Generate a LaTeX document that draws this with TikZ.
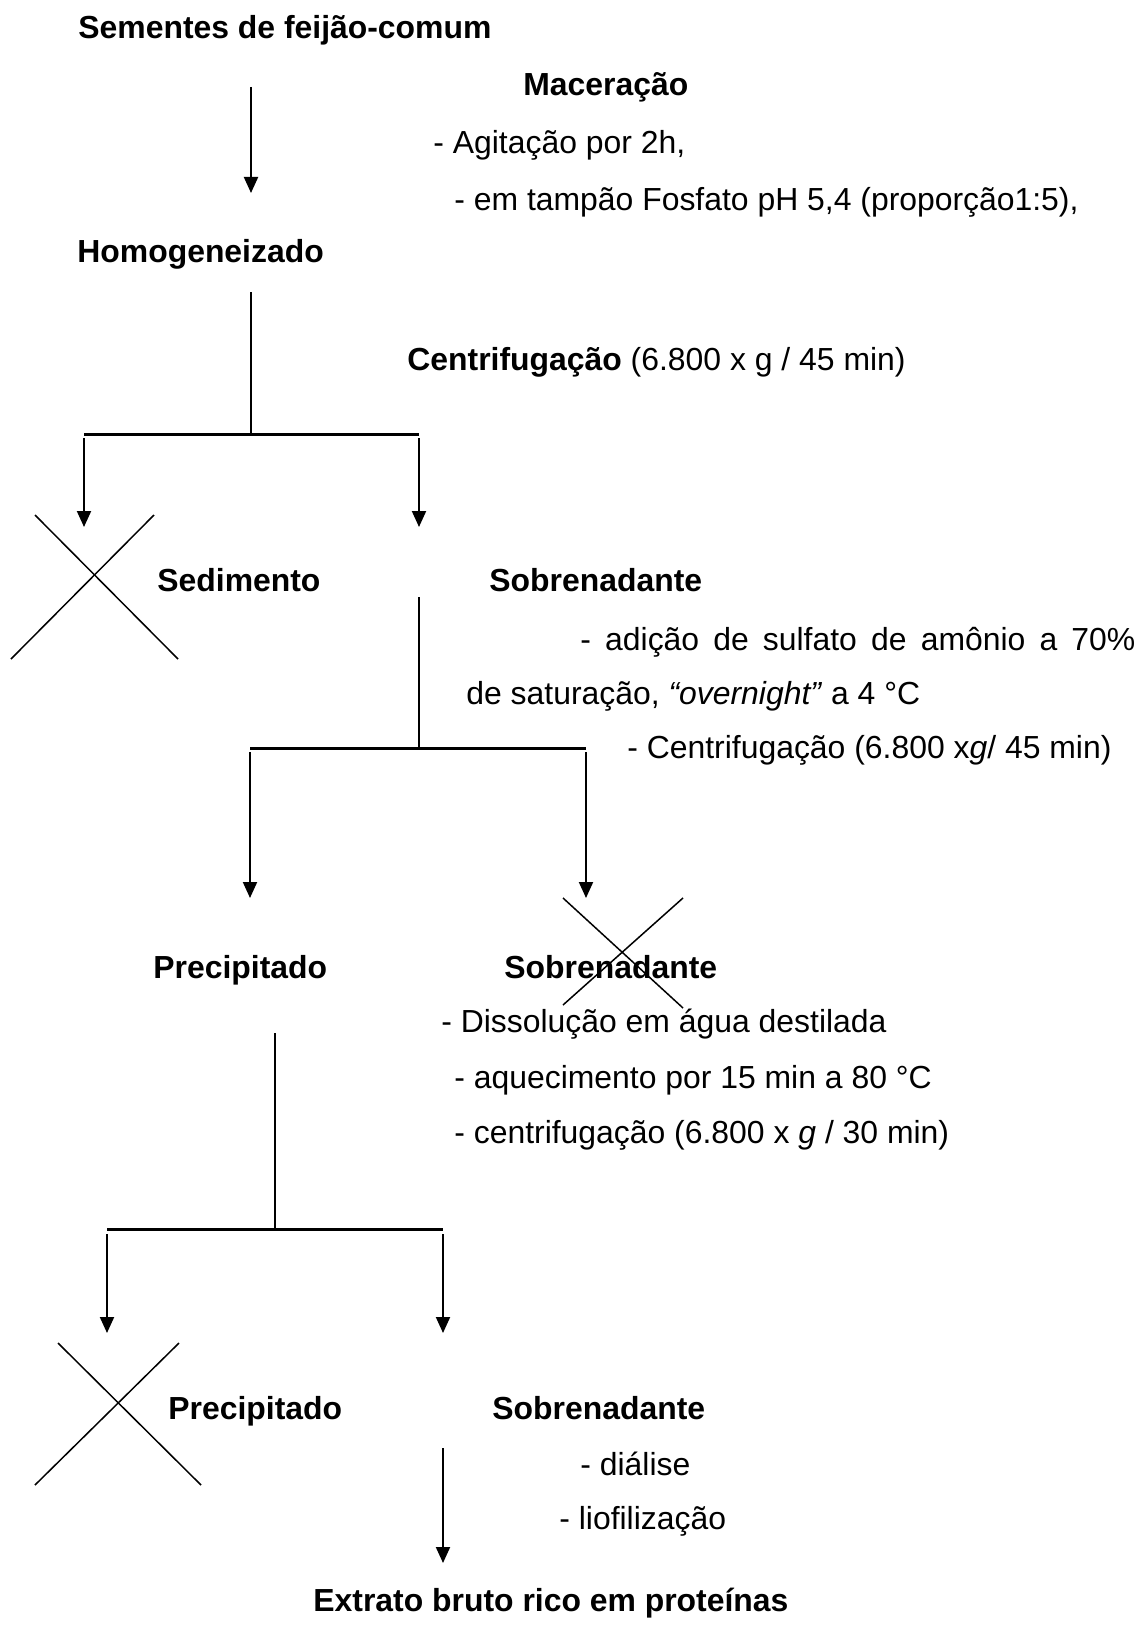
\documentclass[tikz,border=0pt]{standalone}
\usepackage{fontspec}
\setmainfont{Liberation Sans}
\usetikzlibrary{arrows.meta}
\tikzset{%
  arrow/.style={line width=1pt,-{Triangle[length=8pt,width=7pt]}},
  stem/.style={line width=1pt},
  bar/.style={line width=1.5pt},
  discard/.style={line width=0.75pt},
  stage/.style={anchor=base west,inner sep=0pt,font=\fontsize{15.95}{19}\selectfont\bfseries},
  note/.style={anchor=base west,inner sep=0pt,font=\fontsize{15.95}{19}\selectfont},
}

\begin{document}
\begin{tikzpicture}[x=0.5pt,y=-0.5pt]
  \useasboundingbox (0,0) rectangle (1140,1648);

  % maceration
  \node[stage] (seeds) at (78,39) {Sementes de feijão-comum};
  \node[stage] (macer) at (523,96) {Maceração};
  \node[note] (agit) at (433,154) {- Agitação por 2h,};
  \node[note] (buffer) at (454,211) {- em tampão Fosfato pH 5,4 (proporção1:5),};
  \node[stage] (homog) at (77,263) {Homogeneizado};
  \node[note] (centr1) at (407,370) {\textbf{Centrifugação} (6.800 x g / 45 min)};

  \coordinate (a1s) at (251,87);
  \coordinate (a1e) at (251,193);
  \draw[arrow] (a1s) -- (a1e);

  % first split
  \coordinate (s1top) at (251,292);
  \coordinate (s1) at (251,434);
  \coordinate (s1l) at (84,434);
  \coordinate (s1r) at (419,434);
  \draw[stem] (s1top) -- (s1);
  \draw[bar] (s1l) -- (s1r);
  \coordinate (sedtip) at (84,527);
  \coordinate (sobtip) at (419,527);
  \draw[arrow] (84,438) -- (sedtip);
  \draw[arrow] (419,438) -- (sobtip);

  \node[stage] (sed) at (157,591) {Sedimento};
  \node[stage] (sob1) at (489,591) {Sobrenadante};
  \draw[discard] (35,515) -- (178,659);
  \draw[discard] (154,515) -- (11,659);

  \node[note] (sulf) at (580,650) {\makebox[277.5pt][s]{- adição de sulfato de amônio a 70\%}};
  \node[note] (satur) at (466,704) {de saturação, \textit{“overnight”} a 4 °C};
  \node[note] (centr2) at (627,758) {- Centrifugação (6.800 x\textit{g}/ 45 min)};

  % second split
  \coordinate (s2top) at (419,597);
  \coordinate (s2) at (419,748);
  \coordinate (s2l) at (250,748);
  \coordinate (s2r) at (586,748);
  \draw[stem] (s2top) -- (s2);
  \draw[bar] (s2l) -- (s2r);
  \coordinate (prectip) at (250,898);
  \coordinate (sob2tip) at (586,898);
  \draw[arrow] (250,752) -- (prectip);
  \draw[arrow] (586,752) -- (sob2tip);

  \node[stage] (prec1) at (153,978) {Precipitado};
  \node[stage] (sob2) at (504,978) {Sobrenadante};
  \draw[discard] (563,898) -- (683,1008);
  \draw[discard] (683,898) -- (563,1005);

  \node[note] (dissol) at (441,1032) {- Dissolução em água destilada};
  \node[note] (heat) at (454,1088) {- aquecimento por 15 min a 80 °C};
  \node[note] (centr3) at (454,1143) {- centrifugação (6.800 x \textit{g} / 30 min)};

  % third split
  \coordinate (s3top) at (275,1033);
  \coordinate (s3) at (275,1229);
  \coordinate (s3l) at (107,1229);
  \coordinate (s3r) at (443,1229);
  \draw[stem] (s3top) -- (s3);
  \draw[bar] (s3l) -- (s3r);
  \coordinate (prec2tip) at (107,1333);
  \coordinate (sob3tip) at (443,1333);
  \draw[arrow] (107,1234) -- (prec2tip);
  \draw[arrow] (443,1234) -- (sob3tip);

  \node[stage] (prec2) at (168,1419) {Precipitado};
  \node[stage] (sob3) at (492,1419) {Sobrenadante};
  \draw[discard] (58,1343) -- (201,1485);
  \draw[discard] (179,1343) -- (35,1485);

  \node[note] (dial) at (580,1475) {- diálise};
  \node[note] (lyo) at (559,1529) {- liofilização};

  \coordinate (a4s) at (443,1448);
  \coordinate (a4e) at (443,1563);
  \draw[arrow] (a4s) -- (a4e);

  \node[stage] (extract) at (313,1611) {Extrato bruto rico em proteínas};
\end{tikzpicture}
\end{document}
